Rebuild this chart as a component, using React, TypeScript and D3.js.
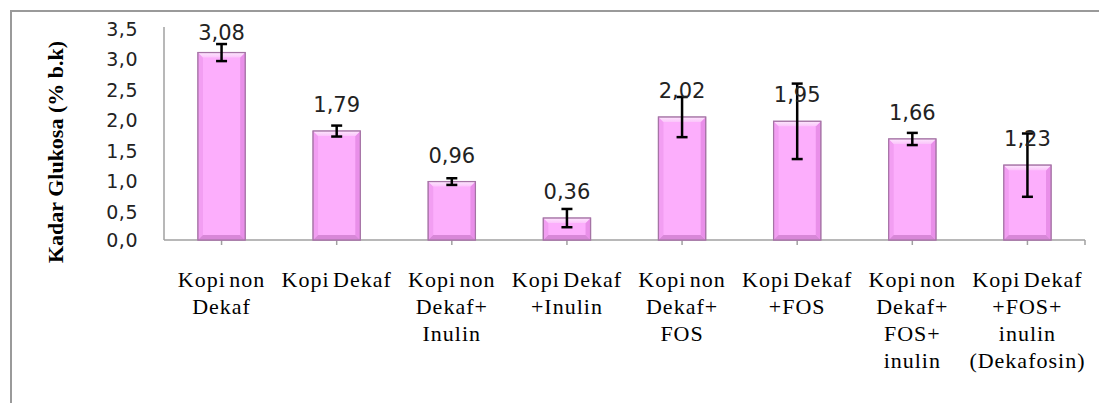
import React from "react";
import * as d3 from "d3";

const categories: string[][] = [
  ["Kopi non", "Dekaf"],
  ["Kopi Dekaf"],
  ["Kopi non", "Dekaf+", "Inulin"],
  ["Kopi Dekaf", "+Inulin"],
  ["Kopi non", "Dekaf+", "FOS"],
  ["Kopi Dekaf", "+FOS"],
  ["Kopi non", "Dekaf+", "FOS+", "inulin"],
  ["Kopi Dekaf", "+FOS+", "inulin", "(Dekafosin)"],
];
const values = [3.08, 1.79, 0.96, 0.36, 2.02, 1.95, 1.66, 1.23];
const errors = [0.14, 0.09, 0.055, 0.15, 0.33, 0.62, 0.1, 0.52];
const yTicks = [0, 0.5, 1, 1.5, 2, 2.5, 3, 3.5];
const yTitle = "Kadar Glukosa (% b.k)";

const fmt = (v: number, d: number) => v.toFixed(d).replace(".", ",");

export default function App() {
  const W = 1099, H = 403;
  const x0 = 164, x1 = 1085, yBase = 240, yTop = 27;
  const ids = categories.map((_, i) => String(i));
  const x = d3.scaleBand<string>().domain(ids).range([x0, x1]).padding(0);
  const y = d3.scaleLinear().domain([0, 3.5]).range([yBase, yTop]);
  const bw = x.step() * 0.41;
  const bv = 5; // bevel size

  return (
    <svg width={W} height={H} style={{ position: "absolute", left: 0, top: 0, background: "#fff" }}>
      <defs>
        <linearGradient id="topBevel" x1="0" y1="0" x2="0" y2="1">
          <stop offset="0" stopColor="#fde6fd" />
          <stop offset="1" stopColor="#fbc4fb" />
        </linearGradient>
      </defs>
      {/* outer frame */}
      <rect x={11} y={11} width={1200} height={500} fill="none" stroke="#9a9a9a" strokeWidth={2} />

      {/* y axis title */}
      <text
        transform={`translate(55,152) rotate(-90)`}
        textAnchor="middle"
        dominantBaseline="central"
        fontFamily="'Liberation Serif', 'Times New Roman', serif"
        fontWeight="bold"
        fontSize={22}
        fill="#000"
      >
        {yTitle}
      </text>

      {/* y tick labels */}
      {yTicks.map((t) => (
        <text
          key={t}
          x={138}
          y={y(t) + (t === 0 ? 0 : 2)}
          textAnchor="end"
          dominantBaseline="central"
          fontFamily="'DejaVu Sans', sans-serif"
          fontSize={19}
          letterSpacing={0.5}
          fill="#222"
        >
          {fmt(t, 1)}
        </text>
      ))}

      {/* axes */}
      <line x1={x0} y1={yTop} x2={x0} y2={yBase} stroke="#a0a0a0" strokeWidth={1.5} />
      <line x1={x0} y1={yBase} x2={x1} y2={yBase} stroke="#a0a0a0" strokeWidth={1.5} />
      {ids.map((id) => (
        <line key={id} x1={x(id)! + x.step() / 2} x2={x(id)! + x.step() / 2} y1={yBase} y2={yBase + 5} stroke="#a0a0a0" strokeWidth={1.5} />
      ))}
      <line x1={x1} x2={x1} y1={yBase} y2={yBase + 5} stroke="#a0a0a0" strokeWidth={1.5} />

      {/* bars */}
      {values.map((v, i) => {
        const cx = x(ids[i])! + x.step() / 2;
        const l = cx - bw / 2, r = cx + bw / 2;
        const t = y(v), b = yBase;
        return (
          <g key={i}>
            <rect x={l} y={t} width={bw} height={b - t} fill="#fcaefc" stroke="#b07cb0" strokeWidth={1.2} />
            <polygon points={`${l},${t} ${l + bv},${t + bv} ${l + bv},${b - bv} ${l},${b}`} fill="#f29ef2" />
            <polygon points={`${r},${t} ${r - bv},${t + bv} ${r - bv},${b - bv} ${r},${b}`} fill="#e98fe9" />
            <polygon points={`${l},${b} ${l + bv},${b - bv} ${r - bv},${b - bv} ${r},${b}`} fill="#d887d8" />
            <polygon points={`${l},${t} ${l + bv},${t + bv} ${r - bv},${t + bv} ${r},${t}`} fill="url(#topBevel)" />
            <rect x={l} y={t} width={bw} height={b - t} fill="none" stroke="#a574a5" strokeWidth={1.2} />
          </g>
        );
      })}

      {/* error bars */}
      {values.map((v, i) => {
        const cx = x(ids[i])! + x.step() / 2;
        const hi = y(v + errors[i]), lo = y(v - errors[i]);
        return (
          <g key={i} stroke="#000" strokeWidth={2.5}>
            <line x1={cx} x2={cx} y1={hi} y2={lo} />
            <line x1={cx - 5.5} x2={cx + 5.5} y1={hi} y2={hi} />
            <line x1={cx - 5.5} x2={cx + 5.5} y1={lo} y2={lo} />
          </g>
        );
      })}

      {/* value labels */}
      {values.map((v, i) => {
        const cx = x(ids[i])! + x.step() / 2;
        const cy = Math.max(y(v) - 26, 33);
        return (
          <text
            key={i}
            x={cx}
            y={cy}
            textAnchor="middle"
            dominantBaseline="central"
            fontFamily="'DejaVu Sans', sans-serif"
            fontSize={21}
            fill="#222"
          >
            {fmt(v, 2)}
          </text>
        );
      })}

      {/* category labels */}
      {categories.map((lines, i) => {
        const cx = x(ids[i])! + x.step() / 2;
        return (
          <text
            key={i}
            textAnchor="middle"
            fontFamily="'Liberation Serif', 'Times New Roman', serif"
            fontSize={22}
            letterSpacing={1}
            wordSpacing={-3}
            fill="#000"
          >
            {lines.map((ln, j) => (
              <tspan key={j} x={cx} y={287 + j * 27}>
                {ln}
              </tspan>
            ))}
          </text>
        );
      })}
    </svg>
  );
}
